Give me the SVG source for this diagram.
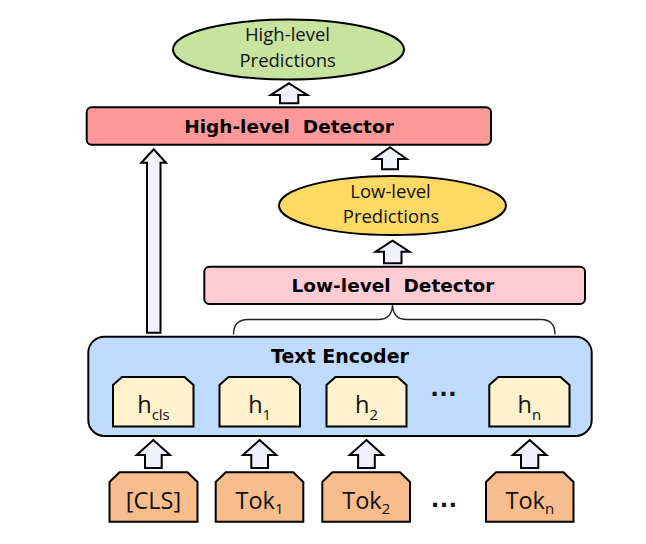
<svg xmlns="http://www.w3.org/2000/svg" width="646" height="544" viewBox="0 0 646 544">
<style>
.bold{font-family:"DejaVu Sans",Verdana,sans-serif;font-weight:bold;font-size:18.5px;fill:#000;text-anchor:middle;white-space:pre}
.reg{font-family:"Open Sans","Noto Sans",sans-serif;font-size:18.5px;fill:#111;text-anchor:middle}
.tok{font-family:"Open Sans","Noto Sans",sans-serif;font-size:23.5px;fill:#111;text-anchor:middle}
.sub{font-size:15px}
.dots{font-family:"Liberation Sans",Arial,sans-serif;font-weight:bold;font-size:28px;fill:#111;text-anchor:middle}
.arrow{fill:#F0F0FF;stroke:#000;stroke-width:2;stroke-linejoin:miter}
.hbox{fill:#FFF2CC;stroke:#000;stroke-width:2}
.tbox{fill:#F8BD8D;stroke:#000;stroke-width:2}
</style>
<rect width="646" height="544" fill="#fff"/>

<g id="high-pred">
<ellipse cx="288.5" cy="49.5" rx="115.5" ry="30" fill="#C8E3A0" stroke="#000" stroke-width="2"/>
<text class="reg" x="287.5" y="41">High-level</text>
<text class="reg" x="287.7" y="66.5">Predictions</text>
</g>

<g id="high-detector">
<rect x="86.7" y="107.3" width="404.3" height="37.4" rx="5" fill="#FF9999" stroke="#000" stroke-width="2"/>
<text class="bold" x="289" y="132.7" xml:space="preserve">High-level  Detector</text>
</g>

<g id="low-pred">
<ellipse cx="392.5" cy="205.5" rx="113.5" ry="29.5" fill="#FFD966" stroke="#000" stroke-width="2"/>
<text class="reg" x="390.5" y="197.5">Low-level</text>
<text class="reg" x="391" y="222.5">Predictions</text>
</g>

<g id="low-detector">
<rect x="204.3" y="266.7" width="380.7" height="37.3" rx="5" fill="#FFCCD4" stroke="#000" stroke-width="2"/>
<text class="bold" x="393" y="292" xml:space="preserve">Low-level  Detector</text>
</g>

<g id="text-encoder">
<rect x="88.3" y="336.7" width="503.4" height="99.3" rx="16" fill="#BFDBFF" stroke="#000" stroke-width="2"/>
<text class="bold" x="340" y="363" style="font-size:19px">Text Encoder</text>
</g>

<g id="h-cls">
<path class="hbox" d="M122,377 L184.5,377 L193.5,385 L193.5,426.5 L113,426.5 L113,385 Z"/>
<text class="tok" x="153.5" y="412.5">h<tspan class="sub" dy="7">cls</tspan></text>
</g>
<g id="h-1">
<path class="hbox" d="M228.5,377 L291,377 L300,385 L300,426.5 L219.5,426.5 L219.5,385 Z"/>
<text class="tok" x="259.7" y="412.5">h<tspan class="sub" dy="7">1</tspan></text>
</g>
<g id="h-2">
<path class="hbox" d="M335.5,377 L397.5,377 L406.5,385 L406.5,426.5 L326.5,426.5 L326.5,385 Z"/>
<text class="tok" x="366.5" y="412.5">h<tspan class="sub" dy="7">2</tspan></text>
</g>
<text id="h-dots" class="dots" x="443.5" y="395.5">…</text>
<g id="h-n">
<path class="hbox" d="M498.3,377 L560.5,377 L569.5,385 L569.5,426.5 L489.3,426.5 L489.3,385 Z"/>
<text class="tok" x="529.4" y="412.5">h<tspan class="sub" dy="7">n</tspan></text>
</g>

<g id="tok-cls">
<path class="tbox" d="M119.5,472.3 L187.5,472.3 L197.5,482 L197.5,521.7 L109.5,521.7 L109.5,482 Z"/>
<text class="tok" x="153.5" y="509">[CLS]</text>
</g>
<g id="tok-1">
<path class="tbox" d="M225.7,472.3 L293.3,472.3 L303.3,482 L303.3,521.7 L215.7,521.7 L215.7,482 Z"/>
<text class="tok" x="259.5" y="509">Tok<tspan class="sub" dy="5">1</tspan></text>
</g>
<g id="tok-2">
<path class="tbox" d="M332.3,472.3 L400,472.3 L410,482 L410,521.7 L322.3,521.7 L322.3,482 Z"/>
<text class="tok" x="366.2" y="509">Tok<tspan class="sub" dy="5">2</tspan></text>
</g>
<text id="tok-dots" class="dots" x="444" y="507">…</text>
<g id="tok-n">
<path class="tbox" d="M496,472.3 L563.5,472.3 L573.5,482 L573.5,521.7 L486,521.7 L486,482 Z"/>
<text class="tok" x="529.8" y="509">Tok<tspan class="sub" dy="5">n</tspan></text>
</g>

<g id="connectors">
<path class="arrow" d="M289,83.3 L307.3,95 L298.3,95 L298.3,103.3 L280,103.3 L280,95 L270.7,95 Z"/>
<path class="arrow" d="M153.7,149.3 L166,162.7 L160.5,162.7 L160.5,332.7 L147,332.7 L147,162.7 L141.3,162.7 Z"/>
<path class="arrow" d="M390,147.3 L406.7,159 L398,159 L398,169.3 L382,169.3 L382,159 L373.3,159 Z"/>
<path class="arrow" d="M392.5,240.7 L409.5,251.7 L401.5,251.7 L401.5,263.3 L384,263.3 L384,251.7 L375.5,251.7 Z"/>
<path class="arrow" d="M153.3,440 L170,455 L161.7,455 L161.7,468 L145,468 L145,455 L136.7,455 Z"/>
<path class="arrow" d="M259.6,440 L276.3,455 L268,455 L268,468 L251.3,468 L251.3,455 L243,455 Z"/>
<path class="arrow" d="M366.4,440 L383.1,455 L374.8,455 L374.8,468 L358.1,468 L358.1,455 L349.7,455 Z"/>
<path class="arrow" d="M529.7,440 L546.5,455 L538.3,455 L538.3,468 L521,468 L521,455 L512.8,455 Z"/>
<path d="M233.5,334.5 Q233.5,319.5 248,319.5 L378,319.5 Q392.5,319.5 392.5,304 Q392.5,319.5 407,319.5 L541,319.5 Q555,319.5 555,334.5" fill="none" stroke="#222" stroke-width="1.3"/>
</g>
</svg>
